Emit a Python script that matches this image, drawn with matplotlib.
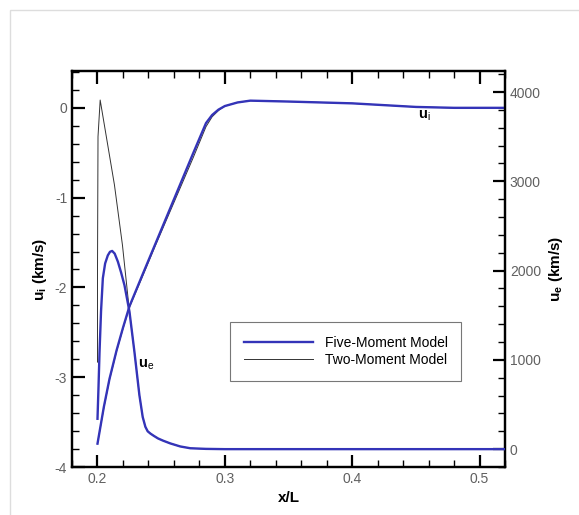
import matplotlib.pyplot as plt
from matplotlib.ticker import MultipleLocator
from matplotlib.patches import Rectangle

plt.rcParams['font.family'] = ['Liberation Sans', 'DejaVu Sans']
plt.rcParams['axes.unicode_minus'] = False
plt.rcParams['mathtext.fontset'] = 'custom'
plt.rcParams['mathtext.rm'] = 'Liberation Sans'
plt.rcParams['mathtext.bf'] = 'Liberation Sans:bold'

# ion velocity, five-moment model (left axis, km/s)
x_ui5 = [0.2, 0.205, 0.2094, 0.215, 0.22, 0.2251, 0.235, 0.245, 0.255, 0.265,
         0.275, 0.2852, 0.29, 0.295, 0.30, 0.31, 0.32, 0.35, 0.40, 0.45, 0.48, 0.52]
ui5 = [-3.74, -3.33, -3.02, -2.70, -2.45, -2.21, -1.87, -1.53, -1.19, -0.85,
       -0.51, -0.17, -0.08, -0.02, 0.02, 0.06, 0.08, 0.07, 0.05, 0.01, 0.0, 0.0]
# ion velocity, two-moment model
x_ui2 = [0.2, 0.205, 0.2094, 0.215, 0.22, 0.2251, 0.235, 0.245, 0.255, 0.265,
         0.275, 0.2852, 0.29, 0.295, 0.30, 0.31, 0.32, 0.35, 0.40, 0.45, 0.48, 0.52]
ui2 = [-3.74, -3.34, -3.03, -2.71, -2.46, -2.22, -1.89, -1.55, -1.22, -0.89,
       -0.56, -0.21, -0.10, -0.03, 0.02, 0.06, 0.08, 0.07, 0.05, 0.01, 0.0, 0.0]

# electron velocity, five-moment model (right axis, km/s)
x_ue5 = [0.2, 0.2008, 0.2016, 0.2028, 0.2042, 0.206, 0.2081, 0.2098, 0.2115, 0.2135,
         0.216, 0.2185, 0.2212, 0.2251, 0.229, 0.2329, 0.2355, 0.2376, 0.2394, 0.2415,
         0.2441, 0.2475, 0.2515, 0.2572, 0.265, 0.2729, 0.285, 0.30, 0.52]
ue5 = [340, 700, 1090, 1550, 1915, 2080, 2170, 2210, 2220, 2190,
       2100, 1980, 1835, 1540, 1090, 605, 360, 250, 200, 175,
       150, 120, 95, 64, 30, 10, 3, 0, 0]
# electron velocity, two-moment model
x_ue2 = [0.2, 0.2, 0.2004, 0.2021, 0.2133, 0.2196, 0.2243, 0.2251, 0.229, 0.2329,
         0.2355, 0.2376, 0.2394, 0.2415, 0.2441, 0.2475, 0.2515, 0.2572, 0.265,
         0.2729, 0.285, 0.30, 0.52]
ue2 = [975, 2000, 3500, 3910, 2960, 2285, 1650, 1540, 1090, 605,
       360, 250, 200, 175, 150, 120, 95, 64, 30,
       10, 3, 0, 0]

blue = '#3434b8'
gray_txt = '#606060'

fig = plt.figure(figsize=(5.79, 5.15), dpi=100)
ax = fig.add_axes([0.1244, 0.0932, 0.7478, 0.7689])
ax2 = ax.twinx()

# faint image frame
fig.patches.append(Rectangle((10 / 579, -0.1), 1.2, 1 - 10 / 515 + 0.1,
                             transform=fig.transFigure, fill=False,
                             edgecolor='#dddddd', linewidth=1))

l5, = ax.plot(x_ui5, ui5, color=blue, lw=1.7, zorder=3)
l2, = ax.plot(x_ui2, ui2, color='#333333', lw=0.7, zorder=2)
ax2.plot(x_ue5, ue5, color=blue, lw=1.7, zorder=3)
ax2.plot(x_ue2, ue2, color='#333333', lw=0.7, zorder=2)

ax.set_xlim(0.18, 0.52)
ax.set_ylim(-4, 0.41)
ax2.set_ylim(-200, 4235)

ax.xaxis.set_major_locator(MultipleLocator(0.1))
ax.xaxis.set_minor_locator(MultipleLocator(0.02))
ax.yaxis.set_major_locator(MultipleLocator(1))
ax.yaxis.set_minor_locator(MultipleLocator(0.2))
ax2.yaxis.set_major_locator(MultipleLocator(1000))
ax2.yaxis.set_minor_locator(MultipleLocator(200))

for a in (ax, ax2):
    for s in a.spines.values():
        s.set_linewidth(1.6)
ax.tick_params(which='both', direction='in', top=True, right=False,
               labelcolor=gray_txt, labelsize=10)
ax.tick_params(which='major', length=9, width=1.6)
ax.tick_params(which='minor', length=5, width=1.0)
ax2.tick_params(which='both', direction='in', labelcolor=gray_txt, labelsize=10)
ax2.tick_params(which='major', length=9, width=1.6)
ax2.tick_params(which='minor', length=5, width=1.0)

ax.set_xlabel('x/L', fontsize=11, fontweight='bold')
ax.set_ylabel(r'$\mathbf{u}_{\mathbf{i}}$ (km/s)', fontsize=11, fontweight='bold')
ax2.set_ylabel(r'$\mathbf{u}_{\mathbf{e}}$ (km/s)', fontsize=11, fontweight='bold')

ax.text(0.4515, 0.0, r'$\mathbf{u}_{\mathrm{i}}$', fontsize=10.5, va='top', ha='left')
ax.text(0.2315, -2.78, r'$\mathbf{u}_{\mathrm{e}}$', fontsize=10.5, va='top', ha='left')

leg = ax.legend([l5, l2], ['Five-Moment Model', 'Two-Moment Model'],
                loc='upper left', bbox_to_anchor=(0.365, 0.366), borderaxespad=0,
                fontsize=10, handlelength=5.0, fancybox=False, framealpha=1,
                edgecolor='#777777', borderpad=1.0, labelspacing=0.2)
leg.get_frame().set_linewidth(0.8)

fig.savefig('out.png', dpi=100)
